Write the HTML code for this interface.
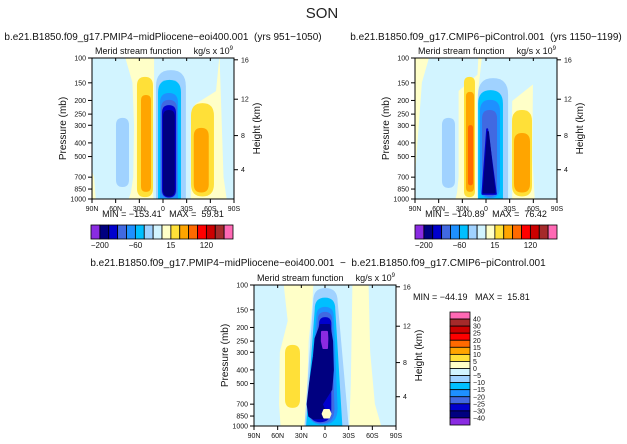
<!DOCTYPE html>
<html><head><meta charset="utf-8">
<style>
html,body{margin:0;padding:0;background:#fff;}
svg{display:block;font-family:"Liberation Sans",sans-serif;}
svg text{white-space:pre;}
</style></head>
<body>
<svg id="fig" width="627" height="444" viewBox="0 0 627 444" xmlns="http://www.w3.org/2000/svg">
<text x="322" y="18" font-size="15" text-anchor="middle" fill="#222">SON</text>
</svg>
<script>
// ---------- data ----------
const colorList = ["#8a2be2","#000080","#0000cd","#4169e1","#1e90ff","#00bfff","#a0d2ff","#d2f4ff","#ffffc8","#ffe038","#ffa500","#ff6a00","#ff0000","#cc0000","#a52a2a","#ff69b4"];
const pressureTicks = [100,150,200,250,300,400,500,700,850,1000];
const heightTicks = [16,12,8,4];
const heightTickPressure = [103,196,355,620];
const latTicks = [90,60,30,0,-30,-60,-90];
const latTickLabels = ["90N","60N","30N","0","30S","60S","90S"];
const topBarLabels = ["-200","-60","15","120"];
const topBarLabelIdx = [1,5,9,13];
const diffBarLabels = ["40","30","25","20","15","10","5","0","-5","-10","-15","-20","-25","-30","-40"];

// background region polygons [colorIndex, [[lat,p],...]]
const bgA = [
  [7, [[90,100],[49,100],[40,150],[38,300],[39,700],[42,900],[45,1000],[84,1000],[86,700],[90,600]]],
  [7, [[10,100],[-70,100],[-66,170],[-40,210],[-34,300],[-34,1000],[11,1000],[12,400],[10,200]]],
  [7, [[-73,100],[-90,100],[-90,1000],[-82,1000],[-78,700]]]
];
const bgB = [
  [7, [[71,100],[11,100],[12,130],[36,170],[36,300],[36,700],[38,900],[40,1000],[88,1000],[88,600],[80,150]]],
  [7, [[4,100],[-68,100],[-60,150],[-32,200],[-31,400],[-32,1000],[10,1000],[10,200]]],
  [7, [[-61,100],[-90,100],[-90,1000],[-63,1000],[-60,500]]]
];
const bgC = [
  [8, [[51,100],[16,100],[18,150],[22,250],[24,600],[27,1000],[55,1000],[57,700],[56,300],[46,180]]],
  [8, [[-36,100],[-54,100],[-56,300],[-62,700],[-70,1000],[-32,1000],[-34,500]]]
];
// blobs [colorIndex, latLeftTop, latRightTop, latLeftBot, latRightBot, pTop, pBot]
const blobsA = [
  [6, 59.6,43.1,59.6,43.1,266,822],
  [9, 33,12.7,33,12.7,136,970],
  [10,27.9,15.2,27.9,15.2,183,890],
  [6, 8.9,-29,8.9,-29,122,1000],
  [5, 6.3,-22.8,6.3,-22.8,143,1000],
  [4, 3.8,-19,3.8,-19,177,990],
  [3, 2.5,-17.7,2.5,-17.7,198,985],
  [2, 1.3,-16.5,1.3,-16.5,216,975],
  [1, 0,-15,0,-15,234,960],
  [9, -35.5,-64.6,-35.5,-64.6,209,960],
  [10,-39,-58,-39,-58,313,900]
];
const blobsB = [
  [6, 55.8,39.3,55.8,39.3,266,835],
  [9, 27.9,14,27.9,14,136,970],
  [10,25.4,15.2,25.4,15.2,174,890],
  [11,22.8,16.5,22.8,16.5,299,800],
  [6, 10,-28,10,-28,139,1000],
  [5, 10,-21.5,10,-21.5,169,1000],
  [4, 7.6,-17.7,7.6,-17.7,198,985],
  [3, 5,-14,5,-14,234,960],
  [9, -33,-58.3,-33,-58.3,234,960],
  [10,-35.5,-55.8,-35.5,-55.8,340,900]
];
const triB = [[2, [[-1.5,320],[4.5,920],[-12.5,920]]],[1, [[-2.5,335],[3,900],[-11,900]]]];
const blobsC = [
  [9, 50.7,31.7,50.7,31.7,266,744],
  [6, 15,-16,26,-30,105,1000],
  [5, 13,-13,24,-22,123,1000],
  [4, 11,-11,22,-16,143,980],
  [3, 9,-9,21,-12,155,960],
  [2, 7.5,-8,20,-8,169,940]
];
const polysC = [
  [1, [[5.5,192],[12,240],[14,320],[19,500],[22,700],[20,850],[15,885],[2,880],[0,790],[4,700],[-8,550],[-10,400],[-9,250],[-5.5,192]]],
  [0, [[3.8,215],[4,250],[2,280],[-2.5,280],[-3,240],[-2.5,215]]],
  [8, [[1,770],[3,820],[1,870],[-5,870],[-7,820],[-5,770]]]
];

// ---------- drawing ----------
const NS="http://www.w3.org/2000/svg";
const svg=document.getElementById('fig');
function mk(tag,attrs,parent){const e=document.createElementNS(NS,tag);for(const k in attrs)e.setAttribute(k,attrs[k]);(parent||svg).appendChild(e);return e;}
function txt(s,x,y,size,anchor,parent){const t=mk('text',{x:x,y:y,'font-size':size,'text-anchor':anchor||'start',fill:'#111'},parent);t.textContent=s;return t;}

function panel(x0,y0,bgColor,bg,blobs,polys,tris,name){
  const W=142,H=141;
  const xs=lat=>x0+(90-lat)/180*W;
  const ys=p=>y0+Math.log(p/100)/Math.log(10)*H;
  const g=mk('g',{});
  
  
  const cid='clip'+name;
  const cp=mk('clipPath',{id:cid},g);mk('rect',{x:x0,y:y0,width:W,height:H},cp);
  const pg=mk('g',{'clip-path':'url(#'+cid+')'},g);
  const bgr=mk('rect',{x:x0,y:y0,width:W,height:H,fill:colorList[bgColor]},pg);
  
  
  bg.forEach(r=>{
    const e=mk('polygon',{points:r[1].map(q=>xs(q[0])+','+ys(q[1])).join(' '),fill:colorList[r[0]],stroke:colorList[r[0]],'stroke-width':2,'stroke-linejoin':'round'},pg);
    
    
  });
  blobs.forEach(b=>{
    const xlt=xs(b[1]),xrt=xs(b[2]),xlb=xs(b[3]),xrb=xs(b[4]),yt=ys(b[5]),yb=ys(b[6]);
    const w=Math.abs(xrt-xlt),h=yb-yt;
    const r=Math.min(w*0.55,h*0.3);
    const rb=b[6]>=990?0:Math.min(Math.abs(xrb-xlb)*0.55,h*0.3);
    const mt=(xlt+xrt)/2,mb=(xlb+xrb)/2;
    const d=`M${xlb},${yb-rb} L${xlt},${yt+r} Q${xlt},${yt} ${mt},${yt} Q${xrt},${yt} ${xrt},${yt+r} L${xrb},${yb-rb} Q${xrb},${yb} ${mb},${yb} Q${xlb},${yb} ${xlb},${yb-rb} Z`;
    const e=mk('path',{d:d,fill:colorList[b[0]]},pg);
    
    
  });
  (tris||[]).concat(polys||[]).forEach(r=>{
    const e=mk('polygon',{points:r[1].map(q=>xs(q[0])+','+ys(q[1])).join(' '),fill:colorList[r[0]],stroke:colorList[r[0]],'stroke-width':2,'stroke-linejoin':'round'},pg);
    
    
  });
  const fr=mk('rect',{x:x0,y:y0,width:W,height:H,fill:'none',stroke:'#000','stroke-width':1},g);
  
  
  pressureTicks.forEach(p=>{
    mk('line',{x1:x0-4,x2:x0,y1:ys(p),y2:ys(p),stroke:'#000','stroke-width':1},g);
    const t=txt(String(p),x0-6,ys(p)+2.5,7,'end',g);
    
    
  });
  heightTicks.forEach((h,i)=>{
    const y=ys(heightTickPressure[i]);
    mk('line',{x1:x0+W,x2:x0+W+4,y1:y,y2:y,stroke:'#000','stroke-width':1},g);
    const t=txt(String(h),x0+W+7,y+2.5,7,'start',g);
    
    
  });
  latTicks.forEach((l,i)=>{
    mk('line',{x1:xs(l),x2:xs(l),y1:y0+H,y2:y0+H+4,stroke:'#000','stroke-width':1},g);
    mk('line',{x1:xs(l),x2:xs(l),y1:y0,y2:y0+3,stroke:'#000','stroke-width':1},g);
    const t=txt(latTickLabels[i],xs(l),y0+H+12,7,'middle',g);
    
    
  });
  const yl=txt('Pressure (mb)',0,0,10,'middle',g);
  yl.setAttribute('transform',`translate(${x0-26},${y0+H/2}) rotate(-90)`);
  
  
  const hl=txt('Height (km)',0,0,10,'middle',g);
  hl.setAttribute('transform',`translate(${x0+W+26},${y0+H/2}) rotate(-90)`);
  
  
  const st=txt('Merid stream function',x0+3,y0-4,9,'start',g);
  
  
  const un=mk('text',{x:x0+W-1,y:y0-4,'font-size':9,'text-anchor':'end',fill:'#111'},g);
  un.innerHTML='kg/s x 10<tspan font-size="6" dy="-4">9</tspan>';
  
  
  return g;
}
function hbar(x0,y0,name){
  const W=142,H=14,bw=W/16;
  const g=mk('g',{});
  
  
  colorList.forEach((c,i)=>{
    const r=mk('rect',{x:x0+i*bw,y:y0,width:bw,height:H,fill:c,stroke:'#000','stroke-width':0.8},g);
    
    
  });
  topBarLabels.forEach((s,i)=>{
    const t=txt(s.replace('-','\u2212'),x0+topBarLabelIdx[i]*bw,y0+H+9,8,'middle',g);
    
    
  });
}
function vbar(x0,y0,name){
  const W=20,H=113,bh=H/16;
  const g=mk('g',{});
  
  
  colorList.slice().reverse().forEach((c,i)=>{
    const r=mk('rect',{x:x0,y:y0+i*bh,width:W,height:bh,fill:c,stroke:'#000','stroke-width':0.8},g);
    
    
  });
  diffBarLabels.forEach((s,i)=>{
    const t=txt(s.replace('-','\u2212'),x0+W+3,y0+(i+1)*bh+2.5,7,'start',g);
    
    
  });
}
function title(s,x,y,name){const t=txt(s,x,y,10,'middle');}

title('b.e21.B1850.f09_g17.PMIP4\u2212midPliocene\u2212eoi400.001  (yrs 951\u22121050)',163,40,'left-panel-title');
title('b.e21.B1850.f09_g17.CMIP6\u2212piControl.001  (yrs 1150\u22121199)',486,40,'right-panel-title');
title('b.e21.B1850.f09_g17.PMIP4\u2212midPliocene\u2212eoi400.001  \u2212  b.e21.B1850.f09_g17.CMIP6\u2212piControl.001',318,266,'difference-panel-title');

panel(92,58,8,bgA,blobsA,[],[], 'midpliocene-panel');
panel(415,58,8,bgB,blobsB,[],triB,'picontrol-panel');
panel(254,285,7,bgC,blobsC,polysC,[],'difference-panel');

let t;
t=txt('MIN = \u2212153.41   MAX =  59.81',163,217,9,'middle');
t=txt('MIN = \u2212140.89   MAX =  76.42',486,217,9,'middle');
t=txt('MIN = \u221244.19   MAX =  15.81',413,300,9,'start');

hbar(91,225,'colorbar-left');
hbar(415,225,'colorbar-right');
vbar(450,312,'colorbar-difference');
</script>
</body></html>
